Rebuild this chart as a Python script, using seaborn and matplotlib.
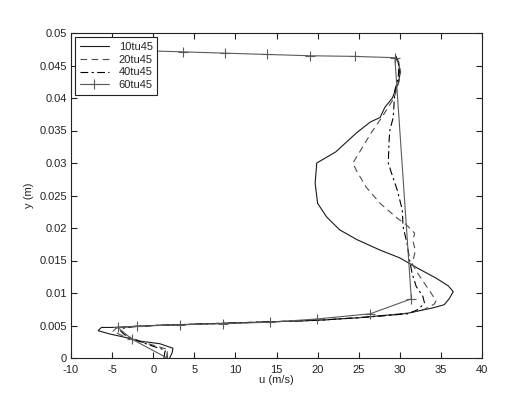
import matplotlib
matplotlib.use("Agg")
import matplotlib.pyplot as plt
from matplotlib.ticker import FormatStrFormatter, MultipleLocator
import seaborn as sns

# velocity profiles u (m/s) vs height y (m)
u10 = [2.0, 2.3, 2.4, 0.8, -1.6, -3.5, -5.3, -6.7, -6.3, -5.0, -3.0, 0.0, 5.0, 10.0, 15.0, 20.0,
       25.0, 28.5, 31.0, 34.0, 35.4, 36.0, 36.5, 35.9, 34.4, 32.2, 31.1, 30.0, 27.6, 24.8, 22.7,
       21.1, 20.0, 19.7, 19.9, 22.2, 24.7, 26.4, 27.6, 28.2, 29.1, 29.8, 30.0, 29.9, 29.5]
y10 = [0.0, 0.0008, 0.0015, 0.0022, 0.0026, 0.0032, 0.0037, 0.0042, 0.0047, 0.0047, 0.0048,
       0.0050, 0.0052, 0.0054, 0.0056, 0.0058, 0.0062, 0.0066, 0.0069, 0.0077, 0.0082, 0.0091,
       0.0102, 0.0111, 0.0123, 0.0138, 0.0146, 0.0154, 0.0166, 0.0182, 0.0197, 0.0217, 0.0238,
       0.0269, 0.0300, 0.0317, 0.0346, 0.0363, 0.0370, 0.0386, 0.0400, 0.0423, 0.0435, 0.0451,
       0.0464]

u20 = [1.6, 1.7, 1.8, 0.5, -1.5, -3.5, -4.9, -4.5, -3.5, 0.0, 5.0, 10.0, 15.0, 20.0, 25.0,
       29.0, 31.0, 33.0, 34.2, 34.4, 33.8, 33.0, 32.2, 31.5, 31.9, 31.6, 31.8, 30.8, 29.7,
       27.6, 25.9, 24.7, 24.3, 25.5, 26.5, 27.8, 28.6, 29.3, 29.9, 30.1, 29.9, 29.5]
y20 = [0.0, 0.0008, 0.0013, 0.0018, 0.0025, 0.0033, 0.0041, 0.0046, 0.0048, 0.0050, 0.0052,
       0.0054, 0.0056, 0.0058, 0.0062, 0.0066, 0.0069, 0.0075, 0.0083, 0.0088, 0.0100, 0.0115,
       0.0130, 0.0145, 0.0165, 0.0180, 0.0192, 0.0205, 0.0215, 0.0238, 0.0263, 0.0289, 0.0300,
       0.0325, 0.0346, 0.0370, 0.0386, 0.0400, 0.0425, 0.0440, 0.0455, 0.0465]

u40 = [1.3, 1.4, 1.5, 0.0, -2.0, -3.5, -4.0, -3.6, -2.5, 0.0, 5.0, 10.0, 15.0, 20.0, 25.0,
       29.0, 31.0, 32.3, 33.0, 32.8, 32.0, 31.5, 31.2, 30.9, 30.4, 30.3, 29.7, 29.0, 28.6,
       28.7, 28.8, 29.2, 29.4, 29.8, 29.9, 29.5]
y40 = [0.0, 0.0008, 0.0012, 0.0018, 0.0027, 0.0036, 0.0042, 0.0046, 0.0048, 0.0050, 0.0052,
       0.0054, 0.0056, 0.0058, 0.0062, 0.0066, 0.0068, 0.0075, 0.0085, 0.0095, 0.0110, 0.0130,
       0.0150, 0.0175, 0.0202, 0.0228, 0.0258, 0.0284, 0.0300, 0.0335, 0.0351, 0.0370, 0.0412,
       0.0430, 0.0450, 0.0465]

u60 = [1.7, -2.6, -4.3, -2.0, 3.3, 8.5, 14.2, 19.9, 26.4, 31.4, 29.4, 24.5, 19.1, 13.8, 8.7,
       3.6, -1.8]
y60 = [0.0, 0.0029, 0.0047, 0.0049, 0.0051, 0.0053, 0.0055, 0.0060, 0.0068, 0.0091, 0.0462,
       0.0464, 0.0465, 0.0467, 0.0469, 0.0471, 0.0473]

labels = ["10tu45", "20tu45", "40tu45", "60tu45"]

sns.set_style("ticks")
plt.rcParams['font.family'] = ['Liberation Sans', 'DejaVu Sans']
plt.rcParams['font.size'] = 8
plt.rcParams['axes.unicode_minus'] = False

fig = plt.figure(figsize=(5.12, 4.12), dpi=100)
ax = fig.add_axes([71 / 512, 54 / 412, 411 / 512, 325 / 412])

series = [(u10, y10), (u20, y20), (u40, y40), (u60, y60)]
colors = ['#1a1a1a', '#4d4d4d', '#000000', '#5a5a5a']
styles = ['-', (0, (6, 4)), (0, (7, 3, 2, 3)), '-']
marks = ['', '', '', '+']

for (u, y), lab in zip(series, labels):
    sns.lineplot(x=u, y=y, sort=False, estimator=None, ax=ax, label=lab)

# fix the look of each line after seaborn draws it (seaborn gives white marker edges)
for ln, c, ls, m in zip(ax.lines, colors, styles, marks):
    ln.set_color(c)
    ln.set_linestyle(ls)
    ln.set_linewidth(0.8)
    ln.set_marker(m)
    ln.set_markersize(7.5)
    ln.set_markeredgewidth(0.8)
    ln.set_markeredgecolor(c)
    ln.set_markerfacecolor(c)

ax.set_xlim(-10, 40)
ax.set_ylim(0, 0.05)
ax.xaxis.set_major_locator(MultipleLocator(5))
ax.yaxis.set_major_locator(MultipleLocator(0.005))
ax.yaxis.set_major_formatter(FormatStrFormatter('%g'))
ax.xaxis.set_major_formatter(FormatStrFormatter('%g'))
ax.tick_params(direction='in', length=4, width=0.8, top=True, right=True,
               labelsize=8, colors='#222222', pad=3)
ax.tick_params(axis='x', pad=5)
for sp in ax.spines.values():
    sp.set_visible(True)
    sp.set_linewidth(0.8)
    sp.set_color('#222222')

ax.set_xlabel("u (m/s)", fontsize=8, labelpad=0)
ax.set_ylabel("y (m)", fontsize=8, labelpad=4)

leg = ax.legend(loc='upper left', fontsize=8, frameon=True, fancybox=False,
                edgecolor='#222222', framealpha=1, borderpad=0.4, labelspacing=0.25,
                handlelength=2.6, handletextpad=0.9, borderaxespad=0.4)
leg.get_frame().set_linewidth(0.8)

fig.savefig("out.png", dpi=100)
